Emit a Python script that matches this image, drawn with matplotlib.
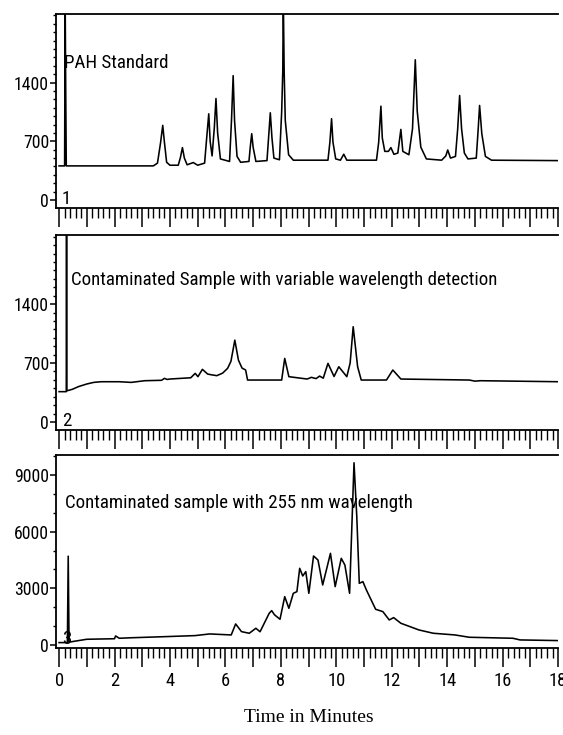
import matplotlib
matplotlib.use("Agg")
import matplotlib.pyplot as plt
from matplotlib import font_manager
from matplotlib.ticker import MultipleLocator

# 讀圖得到的層析數據 (time in minutes, detector response)
pah_time = [0.00, 0.20, 0.22, 0.24, 0.26, 3.40, 3.55, 3.66, 3.74, 3.80, 3.88, 4.00,
            4.30, 4.38, 4.45, 4.52, 4.62, 4.84, 5.00, 5.25, 5.33, 5.40, 5.45, 5.52,
            5.60, 5.66, 5.72, 5.82, 6.15, 6.22, 6.28, 6.33, 6.42, 6.55, 6.85, 6.90,
            6.95, 7.00, 7.10, 7.50, 7.57, 7.62, 7.68, 7.75, 7.95, 8.03, 8.07, 8.09,
            8.12, 8.16, 8.28, 8.45, 9.70, 9.77, 9.83, 9.88, 9.98, 10.15, 10.27, 10.38,
            11.45, 11.53, 11.61, 11.66, 11.75, 11.88, 11.97, 12.08, 12.22, 12.33, 12.40,
            12.62, 12.75, 12.85, 12.92, 13.05, 13.25, 13.80, 13.95, 14.02, 14.12, 14.30,
            14.38, 14.45, 14.52, 14.62, 14.75, 15.05, 15.12, 15.17, 15.25, 15.38, 15.60,
            18.00]
pah_resp = [407, 407, 2400, 1316, 407, 407, 440, 680, 890, 690, 450, 415,
            415, 510, 625, 500, 420, 447, 415, 440, 760, 1028, 700, 526,
            860, 1210, 800, 490, 460, 950, 1483, 950, 520, 450, 460, 640,
            791, 630, 460, 470, 800, 1040, 740, 500, 480, 1050, 1534, 2400,
            1534, 950, 540, 475, 475, 690, 969, 690, 490, 475, 546, 475,
            475, 690, 1119, 740, 580, 580, 625, 545, 560, 842, 580,
            540, 850, 1672, 1060, 630, 490, 475, 525, 597, 500, 520,
            850, 1246, 850, 560, 490, 500, 850, 1127, 790, 520, 475,
            470]

var_time = [0.00, 0.20, 0.26, 0.27, 0.28, 0.48, 0.70, 1.00, 1.25, 1.52, 2.17, 2.60,
            3.09, 3.70, 3.80, 3.90, 4.00, 4.75, 4.91, 5.01, 5.17, 5.36, 5.50, 5.69,
            5.90, 6.08, 6.20, 6.34, 6.47, 6.60, 6.73, 6.80, 6.99, 8.03, 8.14, 8.29,
            8.95, 9.10, 9.27, 9.40, 9.53, 9.70, 9.92, 10.09, 10.38, 10.50, 10.61, 10.77,
            10.90, 11.81, 12.04, 12.33, 14.80, 15.00, 15.20, 18.00]
var_resp = [360, 360, 360, 2400, 370, 388, 420, 451, 470, 478, 478, 470,
            490, 495, 518, 505, 510, 525, 577, 538, 625, 569, 560, 550,
            580, 637, 720, 972, 735, 640, 617, 498, 498, 498, 755, 538,
            510, 530, 515, 545, 520, 696, 540, 656, 538, 700, 1131, 656,
            498, 498, 617, 510, 498, 485, 490, 478]

uv_time = [0.00, 0.30, 0.33, 0.36, 0.48, 1.00, 2.00, 2.04, 2.17, 2.57, 3.87, 4.91,
           5.43, 6.21, 6.37, 6.58, 6.86, 7.10, 7.25, 7.58, 7.67, 7.77, 7.97, 8.14,
           8.29, 8.45, 8.58, 8.68, 8.79, 8.90, 9.01, 9.18, 9.34, 9.51, 9.79, 9.96,
           10.18, 10.31, 10.48, 10.64, 10.74, 10.83, 10.96, 11.09, 11.42, 11.68, 11.91,
           12.07, 12.33, 12.98, 13.50, 14.28, 14.80, 16.37, 16.63, 18.00]
uv_resp = [126, 126, 4700, 150, 179, 302, 330, 478, 355, 380, 443, 496,
           584, 531, 1113, 707, 619, 884, 700, 1677, 1818, 1600, 1360, 2559,
           1942, 2735, 2823, 4058, 3652, 3881, 2735, 4710, 4498, 3176, 4851, 3088,
           4586, 4234, 2735, 9646, 6790, 3264, 3352, 2900, 1889, 1766, 1325,
           1448, 1149, 796, 620, 531, 408, 355, 267, 232]

panel_titles = ["PAH Standard",
                "Contaminated Sample with variable wavelength detection",
                "Contaminated sample with 255 nm wavelength"]
panel_numbers = ["1", "2", "3"]
yticks_small = [0, 700, 1400]
yticks_big = [0, 3000, 6000, 9000]
xtick_vals = list(range(0, 19))
xtick_labels = [str(v) if v % 2 == 0 else "" for v in xtick_vals]

# 找一個窄字體，沒有就用 DejaVu Sans 縮小
fonts = font_manager.fontManager.ttflist
names = {f.name for f in fonts}
narrow = None
for cand in ['Liberation Sans Narrow', 'Roboto Condensed', 'Open Sans Condensed',
             'Noto Sans Condensed', 'DejaVu Sans Condensed']:
    if cand in names:
        narrow = cand
        break
stretch = 'normal'
if narrow is None:
    if any(f.name == 'DejaVu Sans' and f.stretch in ('condensed', 600, 'semi-condensed')
           for f in fonts):
        narrow, stretch = 'DejaVu Sans', 'condensed'
if narrow is None:
    narrow, fs, fs_title = 'DejaVu Sans', 10.2, 10.8
else:
    fs, fs_title = 12.8, 13.6

plt.rcParams['font.family'] = [narrow, 'DejaVu Sans']
plt.rcParams['font.stretch'] = stretch

fig = plt.figure(figsize=(5.63, 7.35), dpi=100)
left, width = 0.0995, 0.8917
boxes = [[left, 0.717, width, 0.264],
         [left, 0.415, width, 0.265],
         [left, 0.1184, width, 0.2626]]
traces = [(pah_time, pah_resp), (var_time, var_resp), (uv_time, uv_resp)]
ylims = [(-95, 2218), (-95, 2218), (-159, 10058)]
title_pos = [(0.016, 0.747), (0.03, 0.77), (0.018, 0.75)]

for i in range(3):
    ax = fig.add_axes(boxes[i])
    t, r = traces[i]
    ax.plot(t, r, color='black', lw=1.15, zorder=3)
    ax.set_xlim(-0.11, 18.0)
    ax.set_ylim(*ylims[i])

    ax.spines['right'].set_visible(False)
    for s in ['left', 'top', 'bottom']:
        ax.spines[s].set_linewidth(1.3)

    ax.set_xticks(xtick_vals)
    ax.xaxis.set_minor_locator(MultipleLocator(0.2))
    ax.tick_params(axis='x', which='major', direction='out', length=14, width=1.1, labelsize=fs + 0.5)
    ax.tick_params(axis='x', which='minor', direction='out', length=7, width=1.0)
    if i == 2:
        ax.set_xticklabels(xtick_labels)
        ax.set_yticks(yticks_big)
        ax.set_yticklabels([str(v) for v in yticks_big])
        ax.yaxis.set_minor_locator(MultipleLocator(1000))
    else:
        ax.set_xticklabels([])
        ax.set_yticks(yticks_small)
        ax.set_yticklabels([str(v) for v in yticks_small])
        ax.yaxis.set_minor_locator(MultipleLocator(100))
    ax.tick_params(axis='y', which='major', direction='out', length=4, width=1.1, labelsize=fs, pad=1)
    ax.tick_params(axis='y', which='minor', direction='out', length=2, width=1.0)

    # 面板標題與編號
    tx, ty = title_pos[i]
    ax.text(tx, ty, panel_titles[i], transform=ax.transAxes, fontsize=fs_title,
            ha='left', va='center', zorder=2)
    ax.text(0.012, 0.045, panel_numbers[i], transform=ax.transAxes, fontsize=fs_title,
            ha='left', va='center', zorder=2)

fig.text(0.548, 0.024, "Time in Minutes", family=['Liberation Serif', 'DejaVu Serif'],
         stretch='normal', fontsize=14, ha='center', va='center')

fig.savefig("out.png", dpi=100, facecolor='white')
